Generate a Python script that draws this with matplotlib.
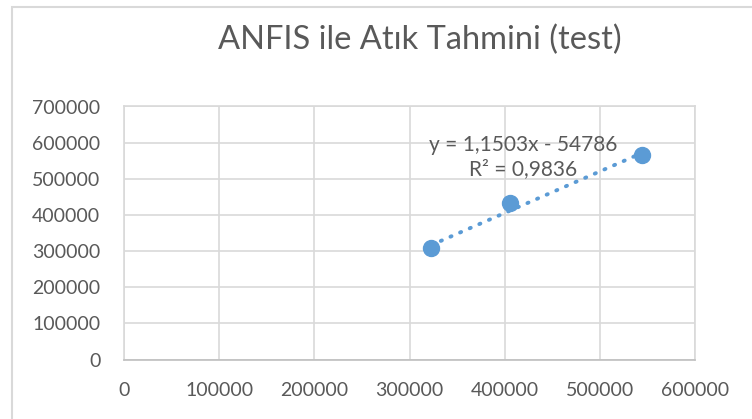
import numpy as np
import matplotlib.pyplot as plt
from matplotlib.patches import Rectangle

actual = [322800, 405300, 544500]
predicted = [309000, 433900, 566100]

# trendline from the chart label
slope = 1.1503
intercept = -54786
r2_label = "0,9836"

x_ticks = [0, 100000, 200000, 300000, 400000, 500000, 600000]
y_ticks = [0, 100000, 200000, 300000, 400000, 500000, 600000, 700000]

blue = "#5B9BD5"
grey_text = "#595959"
grid_col = "#D9D9D9"

plt.rcParams['font.family'] = ['Lato', 'DejaVu Sans']

fig = plt.figure(figsize=(7.52, 4.19), dpi=100)
fig.patches.append(Rectangle((12 / 752, -0.1), 1.2, 1 - 7 / 419 + 0.1,
                             transform=fig.transFigure, fill=False,
                             edgecolor=grid_col, linewidth=1.5))

ax = fig.add_axes([124 / 752, 1 - 359.5 / 419, (695 - 124) / 752, (359.5 - 106.5) / 419])

# trendline
xs = np.array([min(actual), max(actual)])
ax.plot(xs, slope * xs + intercept, linestyle=(0, (0.3, 2.4)), color=blue,
        linewidth=2.8, dash_capstyle='round', zorder=2)
ax.plot(actual, predicted, 'o', color=blue, markersize=11.5, zorder=3)

ax.set_xlim(0, 600000)
ax.set_ylim(0, 700000)
ax.set_xticks(x_ticks)
ax.set_yticks(y_ticks)
ax.set_xticklabels([str(v) for v in x_ticks])
ax.set_yticklabels([str(v) for v in y_ticks])
ax.tick_params(length=0, labelsize=14, colors=grey_text)
ax.tick_params(axis='y', pad=17)
ax.tick_params(axis='x', pad=16)
ax.grid(True, color=grid_col, linewidth=1.2)
ax.set_axisbelow(True)
for s in ax.spines.values():
    s.set_color(grid_col)
    s.set_linewidth(1.2)
ax.spines['bottom'].set_color("#BFBFBF")

eq = "y = {}x - {}".format(str(slope).replace('.', ','), abs(intercept))
ax.text(419600, 560300, eq + "\nR² = " + r2_label, ha='center', va='center',
        fontsize=15, color=grey_text, linespacing=1.3)

fig.text(420 / 752, 1 - 40 / 419, "ANFIS ile Atık Tahmini (test)", ha='center', va='center',
         fontsize=23.5, color=grey_text)

fig.savefig("out.png", dpi=100)
